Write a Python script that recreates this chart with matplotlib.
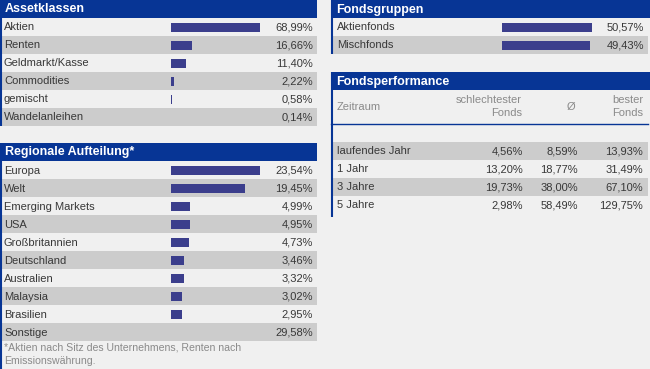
import matplotlib.pyplot as plt
from matplotlib.patches import Rectangle

# data
asset_labels = ["Aktien", "Renten", "Geldmarkt/Kasse", "Commodities", "gemischt", "Wandelanleihen"]
asset_values = [68.99, 16.66, 11.40, 2.22, 0.58, 0.14]
asset_pct = ["68,99%", "16,66%", "11,40%", "2,22%", "0,58%", "0,14%"]

region_labels = ["Europa", "Welt", "Emerging Markets", "USA", "Großbritannien", "Deutschland",
                 "Australien", "Malaysia", "Brasilien", "Sonstige"]
region_values = [23.54, 19.45, 4.99, 4.95, 4.73, 3.46, 3.32, 3.02, 2.95, 29.58]
region_pct = ["23,54%", "19,45%", "4,99%", "4,95%", "4,73%", "3,46%", "3,32%", "3,02%", "2,95%", "29,58%"]
region_has_bar = [True] * 9 + [False]

group_labels = ["Aktienfonds", "Mischfonds"]
group_values = [50.57, 49.43]
group_pct = ["50,57%", "49,43%"]

perf_periods = ["laufendes Jahr", "1 Jahr", "3 Jahre", "5 Jahre"]
perf_worst = ["4,56%", "13,20%", "19,73%", "2,98%"]
perf_avg = ["8,59%", "18,77%", "38,00%", "58,49%"]
perf_best = ["13,93%", "31,49%", "67,10%", "129,75%"]

footnote = ["*Aktien nach Sitz des Unternehmens, Renten nach", "Emissionswährung."]

BLUE = "#073595"
BAR = "#3b3e8c"
LIGHT = "#f0f0f0"
DARK = "#cccccc"
TXT = "#383838"
GREY = "#8a8a8a"
ROW = 18

plt.rcParams['font.family'] = ['Liberation Sans', 'DejaVu Sans']

fig = plt.figure(figsize=(6.5, 3.69), dpi=100)
fig.patch.set_facecolor(LIGHT)
ax = fig.add_axes([0, 0, 1, 1])
ax.set_xlim(0, 650)
ax.set_ylim(369, 0)
ax.axis('off')


def header(x0, x1, y, title):
    ax.add_patch(Rectangle((x0, y), x1 - x0, ROW, color=BLUE, lw=0))
    ax.text(x0 + 5, y + ROW / 2 + 0.5, title, color="white", fontsize=9, fontweight="bold", va="center")


def rows(x0, x1, y, n, first_dark=False):
    for i in range(n):
        dark = (i % 2 == 1) != first_dark
        ax.add_patch(Rectangle((x0, y + i * ROW), x1 - x0, ROW, color=DARK if dark else LIGHT, lw=0))


def border(x, y0, y1):
    ax.plot([x, x], [y0, y1], color=BLUE, lw=1.5, solid_capstyle="butt")


def bar_table(x0, x1, y, labels, values, pct, bar_x, bar_len, has_bar=None, pad=4):
    n = len(labels)
    rows(x0, x1, y, n)
    centers = [y + i * ROW + ROW / 2 for i in range(n)]
    vmax = max(v for v, b in zip(values, has_bar or [True] * n) if b)
    widths = [v / vmax * bar_len if (has_bar is None or has_bar[i]) else 0 for i, v in enumerate(values)]
    ax.barh(centers, widths, left=bar_x, height=9, color=BAR, lw=0)
    for c, lab, p in zip(centers, labels, pct):
        ax.text(x0 + pad, c + 0.5, lab, color=TXT, fontsize=8, va="center")
        ax.text(x1 - 4, c + 0.5, p, color=TXT, fontsize=8, va="center", ha="right")
    return y + n * ROW


# Assetklassen
header(0, 317, 0, "Assetklassen")
end = bar_table(0, 317, ROW, asset_labels, asset_values, asset_pct, 171, 89)
border(0.8, 0, end)

# Regionale Aufteilung
header(0, 317, 143, "Regionale Aufteilung*")
end = bar_table(0, 317, 143 + ROW, region_labels, region_values, region_pct, 171, 89, region_has_bar)
for i, line in enumerate(footnote):
    ax.text(4, end + 7 + i * 13, line, color=GREY, fontsize=7.6, va="center")
border(0.8, 143, 369)

# Fondsgruppen
header(331, 650, 0, "Fondsgruppen")
end = bar_table(331, 648, ROW, group_labels, group_values, group_pct, 502, 90, pad=6)
border(331.8, 0, end)

# Fondsperformance
header(331, 650, 72, "Fondsperformance")
col_worst, col_avg, col_best = 522, 578, 643
ax.text(337, 107, "Zeitraum", color=GREY, fontsize=8, va="center")
ax.text(col_worst, 100, "schlechtester", color=GREY, fontsize=8, va="center", ha="right")
ax.text(col_worst, 113, "Fonds", color=GREY, fontsize=8, va="center", ha="right")
ax.text(571, 107, "Ø", color=GREY, fontsize=8, va="center", ha="center")
ax.text(col_best, 100, "bester", color=GREY, fontsize=8, va="center", ha="right")
ax.text(col_best, 113, "Fonds", color=GREY, fontsize=8, va="center", ha="right")
ax.plot([331, 648], [124, 124], color=BLUE, lw=1)
y0 = 142
rows(331, 648, y0, len(perf_periods), first_dark=True)
for i, per in enumerate(perf_periods):
    c = y0 + i * ROW + ROW / 2 + 0.5
    ax.text(337, c, per, color=TXT, fontsize=8, va="center")
    ax.text(col_worst + 1, c, perf_worst[i], color=TXT, fontsize=8, va="center", ha="right")
    ax.text(col_avg, c, perf_avg[i], color=TXT, fontsize=8, va="center", ha="right")
    ax.text(col_best, c, perf_best[i], color=TXT, fontsize=8, va="center", ha="right")
border(331.8, 72, 217)

fig.savefig("out.png", dpi=100, facecolor=fig.get_facecolor())
